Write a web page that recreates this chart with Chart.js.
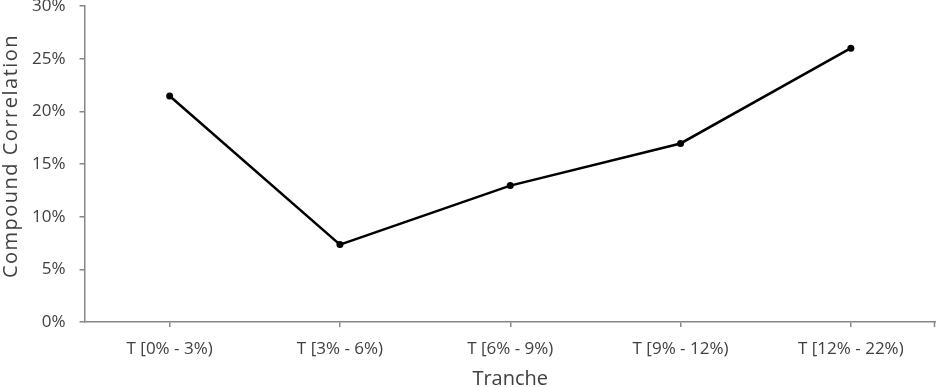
<!DOCTYPE html>
<html>
<head>
<meta charset="utf-8">
<script src="https://cdn.jsdelivr.net/npm/chart.js@4.4.0/dist/chart.umd.min.js"></script>
<style>
  html, body { margin: 0; padding: 0; background: #fff; overflow: hidden; }
  canvas { display: block; }
</style>
</head>
<body>
<canvas id="myChart" width="936" height="387"></canvas>
<script>
var tranches = ['T [0% - 3%)', 'T [3% - 6%)', 'T [6% - 9%)', 'T [9% - 12%)', 'T [12% - 22%)'];
var correlation = [21.45, 7.35, 12.95, 16.95, 26.0];
var yTicks = [0, 5, 10, 15, 20, 25, 30];

var axisGrey = '#868686';
var textGrey = '#404040';

// spread the y title a little and nudge it up, like the original
var titleTweak = {
    id: 'titleTweak',
    afterLayout: function (chart) {
        var y = chart.scales.y;
        if (y._tweaked) return;
        var orig = y.drawTitle;
        y.drawTitle = function () {
            var ctx = this.ctx;
            ctx.save();
            ctx.letterSpacing = '1.5px';
            ctx.translate(0, -8);
            orig.apply(this, arguments);
            ctx.restore();
        };
        y._tweaked = true;
    },
    afterDraw: function (chart) {
        // end tick at the right of the x axis
        var x = chart.scales.x, ctx = chart.ctx;
        ctx.save();
        ctx.strokeStyle = axisGrey;
        ctx.lineWidth = 1.5;
        ctx.beginPath();
        ctx.moveTo(x.right - 1.5, x.top);
        ctx.lineTo(x.right - 1.5, x.top + 5);
        ctx.stroke();
        ctx.restore();
    }
};

var chart1 = document.getElementById('myChart');
var myChart = new Chart(chart1, {
    type: 'line',
    data: {
        labels: tranches,
        datasets: [{
            label: 'Compound Correlation',
            data: correlation,
            borderColor: '#000',
            backgroundColor: '#000',
            borderWidth: 2.5,
            pointRadius: 3.5,
            pointBackgroundColor: '#000',
            pointBorderWidth: 0,
            tension: 0
        }]
    },
    plugins: [titleTweak],
    options: {
        responsive: false,
        animation: false,
        devicePixelRatio: 1,
        layout: { autoPadding: false, padding: { top: 6, right: 0, left: 0, bottom: 0 } },
        plugins: {
            legend: { display: false },
            tooltip: { enabled: false }
        },
        scales: {
            x: {
                offset: true,
                afterFit: function (scale) {
                    scale.height = 65;
                    scale.paddingLeft = 0;
                    scale.paddingRight = 0;
                },
                grid: {
                    offset: false,
                    drawOnChartArea: false,
                    color: axisGrey,
                    lineWidth: 1.5,
                    tickLength: 5
                },
                border: { color: axisGrey, width: 1.5 },
                ticks: {
                    color: textGrey,
                    padding: 12,
                    maxRotation: 0,
                    font: { family: 'Open Sans', size: 17 }
                },
                title: {
                    display: true,
                    text: 'Tranche',
                    color: textGrey,
                    font: { family: 'Open Sans', size: 20, lineHeight: 1 },
                    padding: { top: 0, bottom: -2 }
                }
            },
            y: {
                min: 0,
                max: 30,
                afterFit: function (scale) {
                    scale.width = 84.5;
                    scale.paddingTop = 0;
                    scale.paddingBottom = 0;
                },
                afterBuildTicks: function (scale) {
                    scale.ticks = yTicks.map(function (v) { return { value: v }; });
                },
                grid: {
                    drawOnChartArea: false,
                    color: axisGrey,
                    lineWidth: 1.5,
                    tickLength: 5
                },
                border: { color: axisGrey, width: 1.5 },
                ticks: {
                    color: textGrey,
                    padding: 14,
                    font: { family: 'Open Sans', size: 17 },
                    callback: function (v) { return v + '%'; }
                },
                title: {
                    display: true,
                    text: 'Compound Correlation',
                    color: textGrey,
                    font: { family: 'Open Sans', size: 20, lineHeight: 1 },
                    padding: { top: 1, bottom: 0 }
                }
            }
        }
    }
});
</script>
</body>
</html>
